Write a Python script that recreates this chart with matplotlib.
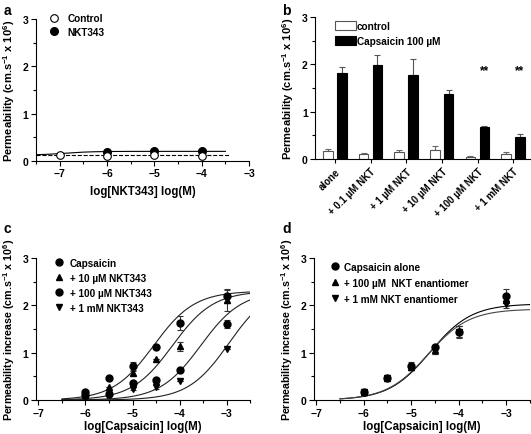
import numpy as np
import matplotlib
matplotlib.use("Agg")
import matplotlib.pyplot as plt
from matplotlib.ticker import MultipleLocator

plt.rcParams['font.family'] = ['Liberation Sans', 'DejaVu Sans']
plt.rcParams['font.weight'] = 'bold'
plt.rcParams['axes.labelweight'] = 'bold'
plt.rcParams['mathtext.fontset'] = 'custom'
plt.rcParams['mathtext.rm'] = 'Liberation Sans:bold'
plt.rcParams['mathtext.default'] = 'rm'

# ── data ─────────────────────────────────────────────────────────────────────
# panel a
a_ctrl_x = [-7, -6, -5, -4]
a_ctrl_y = [0.13, 0.10, 0.13, 0.10]
a_nkt_x = [-6, -5, -4]
a_nkt_y = [0.19, 0.21, 0.20]
a_fit = dict(bottom=0.12, top=0.20, logec50=-6.9, h=1.5)
a_baseline = 0.12

# panel b
b_cats = ['alone', '+ 0.1 µM NKT', '+ 1 µM NKT', '+ 10 µM NKT',
          '+ 100 µM NKT', '+ 1 mM NKT']
b_ctrl = [0.17, 0.11, 0.15, 0.20, 0.05, 0.10]
b_ctrl_err = [0.04, 0.02, 0.05, 0.07, 0.01, 0.04]
b_caps = [1.82, 1.98, 1.77, 1.38, 0.68, 0.47]
b_caps_err = [0.13, 0.22, 0.35, 0.08, 0.01, 0.06]
b_sig = ['', '', '', '', '**', '**']

# panel c
conc = [-6, -5.5, -5, -4.5, -4, -3]
c_series = [
    ('Capsaicin',          'o', [0.18, 0.47, 0.72, 1.12, 1.63, 2.20], [0, 0, 0.09, 0.05, 0.15, 0.15]),
    ('+ 10 µM NKT343',     '^', [0.10, 0.28, 0.57, 0.87, 1.13, 2.10], [0, 0, 0.05, 0, 0.10, 0.22]),
    ('+ 100 µM NKT343',    'o', [0.10, 0.12, 0.37, 0.42, 0.64, 1.60], [0, 0.07, 0, 0.05, 0, 0.08]),
    ('+ 1 mM NKT343',      'v', [0.05, 0.10, 0.24, 0.28, 0.40, 1.07], [0, 0, 0.03, 0.04, 0, 0]),
]
c_fits = [(2.30, -4.55), (2.30, -4.15), (2.30, -3.55), (2.40, -2.95)]

# panel d
d_series = [
    ('Capsaicin alone',             'o', [0.18, 0.47, 0.72, 1.12, 1.43, 2.20], [0.04, 0.04, 0.08, 0.05, 0.13, 0.15]),
    ('+ 100 µM  NKT enantiomer',    '^', [0.17, 0.46, 0.70, 1.05, 1.45, 2.10], [0.03, 0.04, 0.06, 0.07, 0.12, 0.12]),
    ('+ 1 mM NKT enantiomer',       'v', [0.17, 0.46, 0.70, 1.03, 1.44, 2.03], [0.03, 0.04, 0.06, 0.06, 0.12, 0.08]),
]
d_fits = [(2.03, -4.60), (1.92, -4.65)]

YLAB = r'Permeability (cm.s$^{-1}$ x 10$^{6}$)'
YLAB_INC = r'Permeability increase (cm.s$^{-1}$ x 10$^{6}$)'
FS = 7.5      # tick labels
LFS = 8.3     # axis labels
GFS = 7.2     # legends


def hill(x, bottom, top, logec50, h=1.0):
    return bottom + (top - bottom) / (1 + 10 ** ((logec50 - x) * h))


def style(ax):
    for s in ('top', 'right'):
        ax.spines[s].set_visible(False)
    ax.tick_params(labelsize=FS, width=0.8, length=3.5, pad=2)
    ax.tick_params(which='minor', length=2, width=0.8)
    ax.set_ylim(0, 3)
    ax.yaxis.set_major_locator(MultipleLocator(1))
    ax.yaxis.set_minor_locator(MultipleLocator(0.5))


fig = plt.figure(figsize=(5.31, 4.35), dpi=100)
ax_a = fig.add_axes([0.068, 0.628, 0.401, 0.326])
ax_b = fig.add_axes([0.594, 0.632, 0.406, 0.327])
ax_c = fig.add_axes([0.068, 0.078, 0.403, 0.327])
ax_d = fig.add_axes([0.591, 0.078, 0.407, 0.327])

# ── a ──
style(ax_a)
xs = np.linspace(-7.5, -3.5, 200)
ax_a.plot(xs, hill(xs, **a_fit), color='k', lw=0.8)
ax_a.plot([-7.5, -3.4], [a_baseline, a_baseline], color='k', lw=0.8, ls='--')
ax_a.plot(a_nkt_x, a_nkt_y, 'o', color='k', ms=5.5, ls='none', label='NKT343', zorder=3)
ax_a.plot(a_ctrl_x, a_ctrl_y, 'o', mfc='white', mec='k', mew=0.8, ms=5.5, ls='none',
          label='Control', zorder=4)
ax_a.set_xlim(-7.5, -3)
ax_a.xaxis.set_major_locator(MultipleLocator(1))
ax_a.xaxis.set_minor_locator(MultipleLocator(0.5))
ax_a.set_xlabel('log[NKT343] log(M)', fontsize=LFS, labelpad=5)
ax_a.set_ylabel(YLAB, fontsize=LFS - 0.3, labelpad=4)
h, l = ax_a.get_legend_handles_labels()
ax_a.legend(h[::-1], l[::-1], loc='upper left', bbox_to_anchor=(0.02, 1.07), frameon=False,
            fontsize=GFS, handletextpad=0.3, labelspacing=0.35, borderaxespad=0)

# ── b ──
style(ax_b)
pos = np.arange(len(b_cats))
ax_b.bar(pos - 0.2, b_ctrl, width=0.27, color='white', edgecolor='#555555', lw=0.8,
         label='control', zorder=2)
ax_b.errorbar(pos - 0.2, b_ctrl, yerr=[np.zeros(len(b_ctrl)), b_ctrl_err], fmt='none',
              ecolor='#666666', elinewidth=0.8, capsize=2.2, capthick=0.8, zorder=1)
ax_b.bar(pos + 0.19, b_caps, width=0.27, color='black', edgecolor='black', lw=0.8,
         label='Capsaicin 100 µM', zorder=2)
ax_b.errorbar(pos + 0.19, b_caps, yerr=[np.zeros(len(b_caps)), b_caps_err], fmt='none',
              ecolor='#555555', elinewidth=0.8, capsize=2.2, capthick=0.8, zorder=1)
for p, v, s in zip(pos, b_caps, b_sig):
    if s:
        ax_b.text(p + 0.19, 1.88, s, ha='center', va='center', fontsize=FS + 1)
ax_b.set_xlim(-0.55, 5.5)
ax_b.set_xticks(pos)
ax_b.set_xticklabels(b_cats, rotation=45, ha='right', rotation_mode='anchor', fontsize=FS - 0.5)
ax_b.tick_params(axis='x', length=3)
ax_b.set_ylabel(YLAB, fontsize=LFS - 0.3, labelpad=4)
ax_b.legend(loc='upper left', bbox_to_anchor=(0.07, 1.0), frameon=False, fontsize=GFS,
            handlelength=2.1, handleheight=1.0, handletextpad=0.15, labelspacing=0.55,
            borderaxespad=0)

# ── c / d ──
def dose_panel(ax, series, fits, ms, fit_colors):
    style(ax)
    xs = np.linspace(-6.5, -2.5, 200)
    for (top, ec), col in zip(fits, fit_colors):
        ax.plot(xs, hill(xs, 0, top, ec), color=col, lw=0.8, zorder=1)
    for name, m, y, e in series:
        ax.errorbar(conc, y, yerr=e, fmt='none', ecolor='#333333',
                    elinewidth=0.8, capsize=2.5, capthick=0.8, zorder=2)
        ax.plot(conc, y, m, color='k', ms=ms, ls='none', label=name, zorder=3)
    ax.set_xlim(-7.05, -2.5)
    ax.set_xticks([-7, -6, -5, -4, -3])
    ax.xaxis.set_minor_locator(MultipleLocator(0.5))
    ax.set_xlabel('log[Capsaicin] log(M)', fontsize=LFS, labelpad=1.5)
    ax.set_ylabel(YLAB_INC, fontsize=LFS - 0.6, labelpad=4)


dose_panel(ax_c, c_series, c_fits, 5, ['#222222'] * 4)
ax_c.legend(loc='upper left', bbox_to_anchor=(0.06, 1.03), frameon=False, fontsize=GFS,
            handletextpad=0.5, labelspacing=0.5, borderaxespad=0, handlelength=1.2)

dose_panel(ax_d, d_series, d_fits, 5, ['black', '#444444'])
ax_d.legend(loc='upper left', bbox_to_anchor=(0.05, 1.0), frameon=False, fontsize=GFS,
            handletextpad=0.3, labelspacing=0.6, borderaxespad=0, handlelength=1.2)

# panel letters
for x, y, t in [(0.006, 0.99, 'a'), (0.532, 0.99, 'b'), (0.006, 0.49, 'c'), (0.532, 0.49, 'd')]:
    fig.text(x, y, t, fontsize=10, fontweight='bold', va='top')

fig.savefig('out.png', dpi=100)
